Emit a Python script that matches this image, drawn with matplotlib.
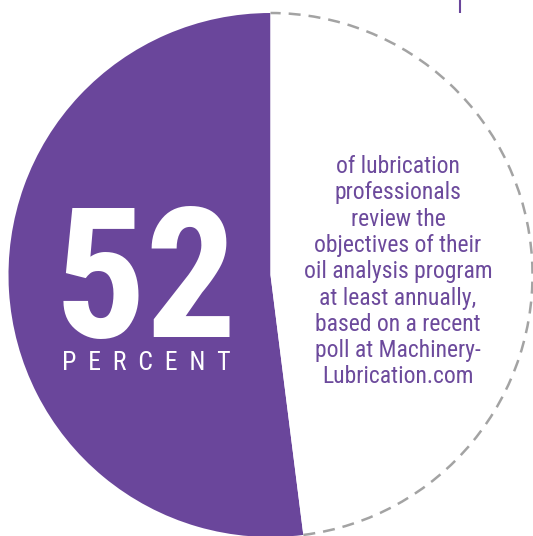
import matplotlib
matplotlib.use("Agg")
import matplotlib.pyplot as plt
from matplotlib.patches import Arc

# data
share = [52, 48]            # percent who review / rest
big_label = "52"
unit_label = "P  E  R  C  E  N  T"
blurb = ["of lubrication",
         "professionals",
         "review the",
         "objectives of their",
         "oil analysis program",
         "at least annually,",
         "based on a recent",
         "poll at Machinery-",
         "Lubrication.com"]

purple = "#6a469b"
W, H = 533, 536

fig = plt.figure(figsize=(W / 100, H / 100), dpi=100)
ax = fig.add_axes([0, 0, 1, 1])

cx, cy, r = 270.5, H - 275, 262
ax.pie(share, colors=[purple, "white"], startangle=90, counterclock=True,
       center=(cx, cy), radius=r, wedgeprops=dict(linewidth=0))

# dashed outline around the white part only
t1 = 90 - 360 * share[1] / sum(share)
ax.add_patch(Arc((cx, cy), 2 * r, 2 * r, theta1=t1, theta2=90,
                 color="#a3a3a3", lw=1.8, linestyle=(0, (4.8, 3.2))))

# little purple tick at the top
ax.plot([460, 460], [H, H - 13], color=purple, lw=1.5, solid_capstyle="butt")

cond = ["Roboto Condensed", "Archivo Narrow", "DejaVu Sans"]
ax.text(146, H - 337, big_label, ha="center", va="baseline", color="white",
        fontsize=130, fontweight=900, family=cond)
ax.text(146, H - 370, unit_label, ha="center", va="baseline", color="white",
        fontsize=18.5, family=cond)

for i, line in enumerate(blurb):
    ax.text(398, H - (173 + 26.3 * i), line, ha="center", va="baseline",
            color="#6c4a9c", fontsize=17, family=cond)

ax.set_xlim(0, W)
ax.set_ylim(0, H)
ax.set_aspect("equal")
ax.axis("off")

fig.savefig("out.png", dpi=100)
